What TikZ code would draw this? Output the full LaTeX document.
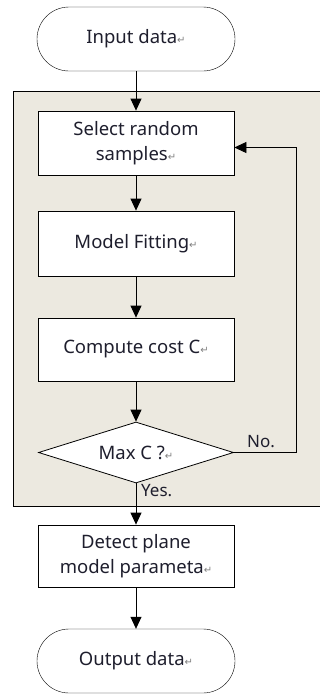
\documentclass[tikz,border=0pt]{standalone}
\usepackage{fontspec}
\setmainfont{Noto Sans}
\newfontfamily\symfont{DejaVu Sans}
\usetikzlibrary{shapes.geometric,arrows.meta}
\definecolor{panel}{RGB}{236,233,224}
\definecolor{ink}{RGB}{30,30,45}
\newcommand{\retmark}{{\symfont\fontsize{10}{10}\selectfont\color{gray}↵}}
\newcommand{\dotmark}{{\symfont\fontsize{8}{8}\selectfont\color{gray}.ı}}
\begin{document}
\begin{tikzpicture}[x=1pt,y=-1pt,
  every node/.style={font=\fontsize{18.5}{25}\selectfont, text=ink},
  procbox/.style={draw, thick, fill=white, minimum width=196pt, align=center},
  terminal/.style={draw, fill=white, rounded corners=32pt, minimum width=198pt, minimum height=64pt},
  flow/.style={thick, -{Triangle[width=11pt,length=12pt]}},
  lbl/.style={font=\fontsize{17}{20}\selectfont, inner sep=1pt}]
\useasboundingbox (0,0) rectangle (320,694);
% loop region (runs past the right edge)
\draw[thick, fill=panel] (13,91.5) rectangle (330,506.5);
% nodes
\node[terminal] (in) at (136,39) {Input data\retmark};
\node[procbox, minimum height=64pt] (sel) at (136,143) {Select random\\samples\retmark};
\node[procbox, minimum height=65pt] (fit) at (136,243.5) {Model Fitting\retmark};
\node[procbox, minimum height=63pt] (cost) at (136,349.5) {Compute cost C\retmark};
\node[draw, thick, fill=white, diamond, aspect=3.2, minimum width=195pt, minimum height=61pt, inner sep=0pt] (max) at (136,452.5) {Max C ?\retmark};
\node[procbox, minimum height=62pt] (det) at (136,556) {Detect plane\\model parameta\retmark};
\node[terminal] (out) at (136,661) {Output data\retmark};
\coordinate (nr) at (296,452.5);
\coordinate (nt) at (296,147.5);
% connectors
\draw[flow] (in) -- (sel);
\draw[flow] (sel) -- (fit);
\draw[flow] (fit) -- (cost);
\draw[flow] (cost) -- (max);
\draw[flow] (max) -- (det);
\draw[flow] (det) -- (out);
\draw[flow] (max.east) -- (nr) -- (nt) -- (sel.east |- nt);
% branch labels
\node[lbl, anchor=south west] (no) at (246,449) {No.};
\node[lbl, anchor=north west] (yes) at (140,483) {Yes.};
\end{tikzpicture}
\end{document}
